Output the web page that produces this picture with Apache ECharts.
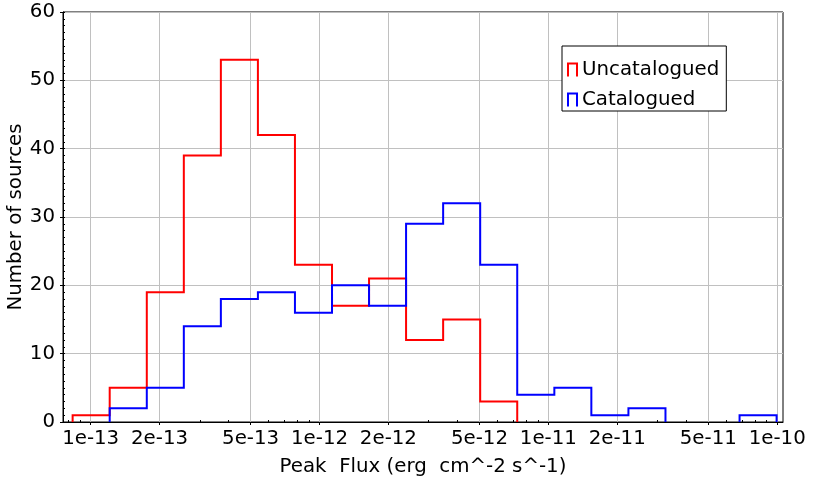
<!DOCTYPE html>
<html>
<head>
<meta charset="utf-8">
<script src="https://cdn.jsdelivr.net/npm/echarts@6/dist/echarts.min.js"></script>
<style>
html,body{margin:0;padding:0;background:#fff;}
#chart{width:814px;height:484px;}
</style>
</head>
<body>
<div id="chart"></div>
<script>
// Histogram bin edges (erg cm^-2 s^-1)
const binEdges = [8.34e-14, 1.211e-13, 1.759e-13, 2.553e-13, 3.706e-13, 5.38e-13, 7.81e-13,
  1.134e-12, 1.646e-12, 2.389e-12, 3.469e-12, 5.036e-12, 7.311e-12,
  1.062e-11, 1.541e-11, 2.238e-11, 3.249e-11, 4.716e-11, 6.847e-11, 9.94e-11];
// Counts per bin
const uncatalogued = [1, 5, 19, 39, 53, 42, 23, 17, 21, 12, 15, 3, 0, 0, 0, 0, 0, 0, 0];
const catalogued   = [0, 2, 5, 14, 18, 19, 16, 20, 17, 29, 32, 23, 4, 5, 1, 2, 0, 0, 1];
// Axis ticks
const xMajorTicks = [1e-13, 2e-13, 5e-13, 1e-12, 2e-12, 5e-12, 1e-11, 2e-11, 5e-11, 1e-10];
const xTickLabels = ['1e-13', '2e-13', '5e-13', '1e-12', '2e-12', '5e-12', '1e-11', '2e-11', '5e-11', '1e-10'];
const xMinorTicks = [8e-14, 9e-14, 3e-13, 4e-13, 6e-13, 7e-13, 8e-13, 9e-13,
  3e-12, 4e-12, 6e-12, 7e-12, 8e-12, 9e-12,
  3e-11, 4e-11, 6e-11, 7e-11, 8e-11, 9e-11];
const xMin = 7.57e-14, xMax = 1.06e-10;
const seriesNames = ['Uncatalogued', 'Catalogued'];
const seriesColors = ['#ff0000', '#0000ff'];

function buildStep(counts) {
  const pts = [];
  let on = false;
  for (let i = 0; i < counts.length; i++) {
    const v = counts[i];
    if (v > 0) {
      if (!on) pts.push([binEdges[i], 0]);
      pts.push([binEdges[i], v]);
      on = true;
    } else if (on) {
      pts.push([binEdges[i], 0]);
      pts.push([binEdges[i], '-']);
      on = false;
    }
  }
  if (on) pts.push([binEdges[counts.length], 0]);
  return pts;
}

function labelFor(v) {
  let best = 0, bd = Infinity;
  for (let i = 0; i < xMajorTicks.length; i++) {
    const d = Math.abs(Math.log10(v) - Math.log10(xMajorTicks[i]));
    if (d < bd) { bd = d; best = i; }
  }
  return xTickLabels[best];
}

const FONT = 'DejaVu Sans';
const FS = 19.8;
const chart = echarts.init(document.getElementById('chart'), null, {renderer: 'canvas'});
chart.setOption({
  animation: false,
  backgroundColor: '#fff',
  grid: {left: 63, right: 31, top: 12, bottom: 62, show: true, borderColor: '#000', borderWidth: 1,
    backgroundColor: 'transparent', containLabel: false, outerBoundsMode: 'none'},
  legend: {
    left: 562, top: 46, orient: 'vertical',
    backgroundColor: '#fff', borderColor: '#000', borderWidth: 1, borderRadius: 0,
    padding: [14, 7, 1, 5],
    itemWidth: 9, itemHeight: 13, itemGap: 10,
    icon: 'path://M0,13L0,0L9,0L9,13',
    textStyle: {fontSize: FS, fontFamily: FONT, color: '#000'},
    data: seriesNames.map(function (n, i) {
      return {name: n, icon: 'path://M0,13L0,0L9,0L9,13',
        itemStyle: {color: 'rgba(0,0,0,0)', borderColor: seriesColors[i], borderWidth: 2}};
    })
  },
  xAxis: [{
    type: 'log', logBase: 10, min: xMin, max: xMax,
    name: 'Peak  Flux (erg  cm^-2 s^-1)', nameLocation: 'middle', nameGap: 35, nameMoveOverlap: false,
    nameTextStyle: {fontSize: FS, fontFamily: FONT, color: '#000'},
    axisLine: {lineStyle: {color: '#000', width: 1}},
    axisTick: {show: true, inside: false, length: 3, customValues: xMajorTicks, lineStyle: {color: '#000'}},
    axisLabel: {customValues: xMajorTicks, fontSize: FS, fontFamily: FONT, color: '#000', margin: 7,
      hideOverlap: false, formatter: function (v) { return labelFor(v); }},
    splitLine: {show: true, lineStyle: {color: '#c0c0c0', width: 1}},
    minorTick: {show: false}, minorSplitLine: {show: false}
  }, {
    type: 'log', logBase: 10, min: xMin, max: xMax, position: 'bottom', gridIndex: 0,
    axisLine: {show: false},
    axisTick: {show: true, inside: true, length: 2, customValues: xMinorTicks, lineStyle: {color: '#000'}},
    axisLabel: {show: false, customValues: xMinorTicks},
    splitLine: {show: false}
  }],
  yAxis: [{
    type: 'value', min: 0, max: 60, interval: 10,
    name: 'Number of sources', nameLocation: 'middle', nameGap: 37, nameMoveOverlap: false,
    nameTextStyle: {fontSize: FS, fontFamily: FONT, color: '#000'},
    axisLine: {show: true, lineStyle: {color: '#000', width: 1}},
    axisTick: {show: true, inside: false, length: 3, lineStyle: {color: '#000'}},
    axisLabel: {fontSize: FS, fontFamily: FONT, color: '#000', margin: 8},
    splitLine: {show: true, lineStyle: {color: '#c0c0c0', width: 1}}
  }, {
    type: 'value', min: 0, max: 60, interval: 1, position: 'left', gridIndex: 0,
    axisLine: {show: false},
    axisTick: {show: true, inside: true, length: 2, lineStyle: {color: '#000'}},
    axisLabel: {show: false},
    splitLine: {show: false}
  }],
  series: [{
    name: seriesNames[0], type: 'line', step: 'end', xAxisIndex: 0, yAxisIndex: 0,
    showSymbol: false, symbol: 'none', connectNulls: false,
    lineStyle: {color: seriesColors[0], width: 2, join: 'miter', cap: 'butt'},
    itemStyle: {color: seriesColors[0]},
    data: buildStep(uncatalogued)
  }, {
    name: seriesNames[1], type: 'line', step: 'end', xAxisIndex: 0, yAxisIndex: 0,
    showSymbol: false, symbol: 'none', connectNulls: false,
    lineStyle: {color: seriesColors[1], width: 2, join: 'miter', cap: 'butt'},
    itemStyle: {color: seriesColors[1]},
    data: buildStep(catalogued)
  }]
});
</script>
</body>
</html>
